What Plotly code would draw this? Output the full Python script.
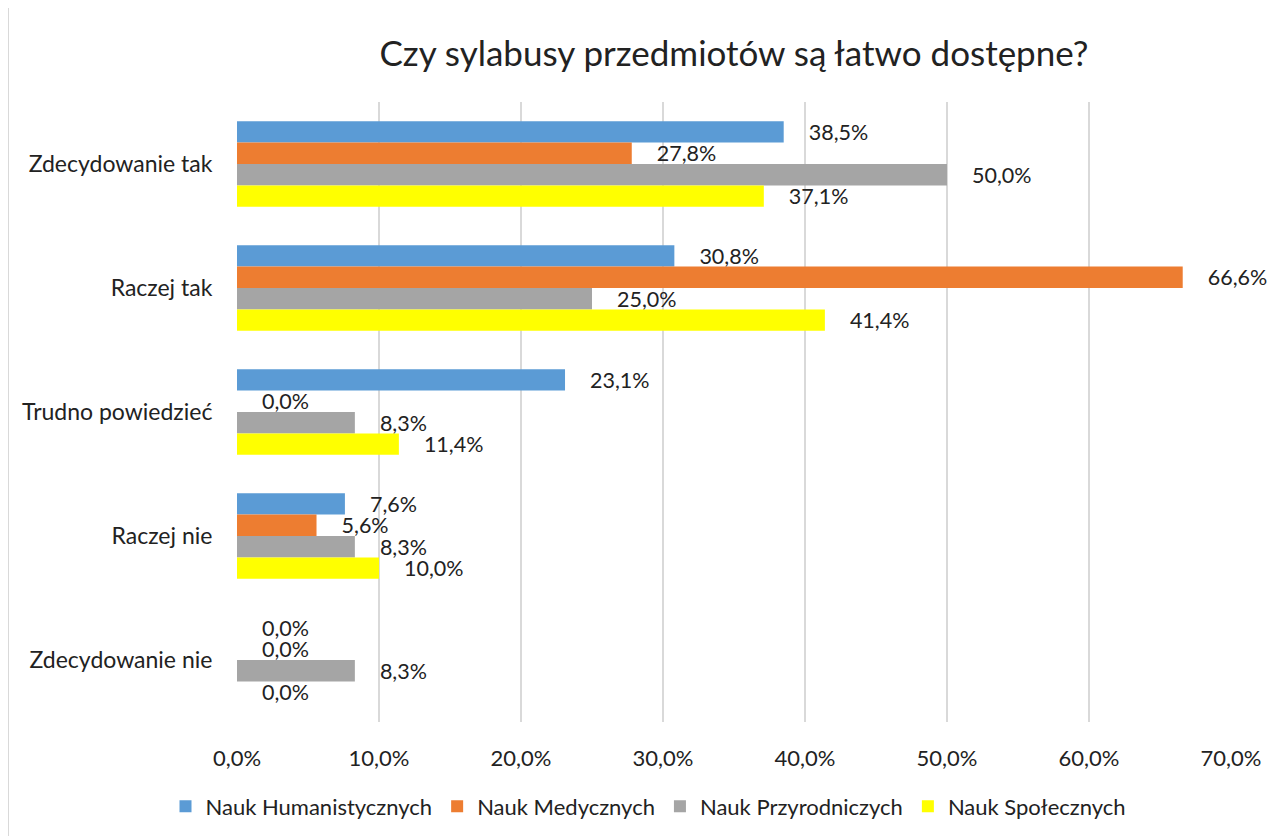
import plotly.graph_objects as go

categories = ["Zdecydowanie tak", "Raczej tak", "Trudno powiedzieć", "Raczej nie", "Zdecydowanie nie"]
series_names = ["Nauk Humanistycznych", "Nauk Medycznych", "Nauk Przyrodniczych", "Nauk Społecznych"]
hum = [38.5, 30.8, 23.1, 7.6, 0.0]
med = [27.8, 66.6, 0.0, 5.6, 0.0]
przyr = [50.0, 25.0, 8.3, 8.3, 8.3]
spol = [37.1, 41.4, 11.4, 10.0, 0.0]
colors = ["#5B9BD5", "#ED7D31", "#A5A5A5", "#FFFF00"]
tick_vals = [0, 10, 20, 30, 40, 50, 60, 70]
tick_text = ["0,0%", "10,0%", "20,0%", "30,0%", "40,0%", "50,0%", "60,0%", "70,0%"]

FONT = "Lato"
PAD = "\u00a0" * 4
L, R, T, B = 229, 58, 94, 122
PLOT_W = 1281 - L - R

def fmt(v):
    return PAD + f"{v:.1f}".replace(".", ",") + "%"

fig = go.Figure()
for name, vals, col in zip(series_names, [hum, med, przyr, spol], colors):
    fig.add_trace(go.Bar(
        y=categories, x=vals, name=name, orientation="h",
        marker=dict(color=col, line=dict(width=0)),
        text=[fmt(v) for v in vals], textposition="outside",
        constraintext="none", cliponaxis=False,
        textfont=dict(family=FONT, size=21.5, color="#222222"),
        hoverinfo="x+y",
    ))

fig.update_layout(
    width=1281, height=836,
    paper_bgcolor="white", plot_bgcolor="white",
    margin=dict(l=L, r=R, t=T, b=B, autoexpand=False),
    barmode="group", bargap=0.31, bargroupgap=0,
    title=dict(text="Czy sylabusy przedmiotów są łatwo dostępne?",
               x=(L + PLOT_W / 2) / 1281, xanchor="center", y=0.945, yanchor="middle",
               font=dict(family=FONT, size=35, color="#222222")),
    font=dict(family=FONT, size=22, color="#222222"),
    legend=dict(orientation="h", xref="container", x=0.5, xanchor="center",
                yref="container", y=0.045, yanchor="middle",
                traceorder="normal", font=dict(family=FONT, size=22, color="#222222"),
                itemwidth=30),
    showlegend=True,
)
fig.update_xaxes(range=[0, 70], tickvals=tick_vals, ticktext=tick_text,
                 showgrid=True, gridcolor="#D9D9D9", gridwidth=2,
                 zeroline=False, showline=False, automargin=False,
                 ticks="outside", ticklen=17, tickcolor="rgba(0,0,0,0)",
                 tickfont=dict(family=FONT, size=22, color="#222222"))
fig.update_yaxes(autorange="reversed", showgrid=False, showline=False, automargin=False,
                 ticks="outside", ticklen=19, tickcolor="rgba(0,0,0,0)",
                 tickfont=dict(family=FONT, size=23, color="#222222"))
fig.add_shape(type="line", xref="paper", yref="paper",
              x0=-L / PLOT_W, x1=-L / PLOT_W, y0=-0.25, y1=1.25,
              line=dict(color="#D9D9D9", width=2))

fig.write_html("out.html")
